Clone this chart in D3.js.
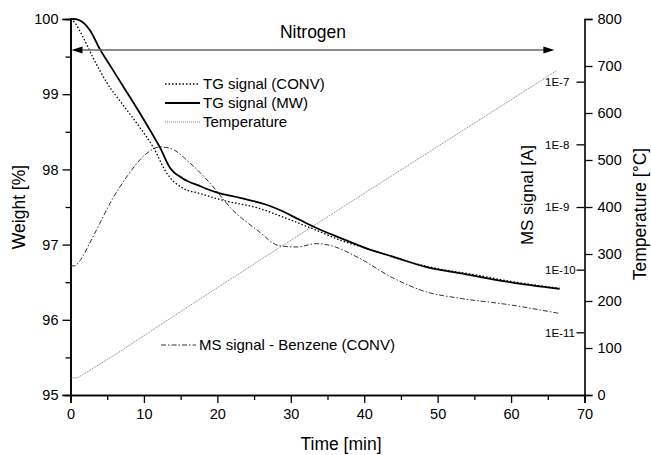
<!DOCTYPE html>
<html>
<head>
<meta charset="utf-8">
<script src="https://cdn.jsdelivr.net/npm/d3@7"></script>
<style>
  body { margin: 0; background: #fff; }
  text { font-family: "Liberation Sans", Arial, sans-serif; fill: #000; }
</style>
</head>
<body>
<div id="chart"></div>
<script>
// data
var tgConvTime = [0, 0.5, 1.7, 3.1, 4.9, 7.2, 9.5, 11.3, 13.1, 15.3, 17.6, 20.7, 25.4, 29.9, 33.5, 36.7, 40.3, 45, 50, 55, 60, 66.6];
var tgConvWeight = [100, 99.96, 99.76, 99.48, 99.16, 98.85, 98.55, 98.29, 97.95, 97.75, 97.68, 97.59, 97.49, 97.33, 97.19, 97.06, 96.95, 96.80, 96.68, 96.60, 96.51, 96.42];

var tgMwTime = [0, 0.5, 1.3, 2.65, 4, 5.4, 7.2, 9.5, 11.2, 12.2, 13.5, 15.3, 17.6, 19.7, 23.1, 26.7, 28.5, 31.2, 33.5, 36.7, 40.3, 43.9, 48.5, 53, 59.8, 66.6];
var tgMwWeight = [100, 100, 99.98, 99.85, 99.60, 99.38, 99.10, 98.74, 98.46, 98.29, 98.03, 97.88, 97.78, 97.70, 97.62, 97.53, 97.46, 97.33, 97.22, 97.09, 96.95, 96.84, 96.70, 96.62, 96.50, 96.41];

var tempTime = [0, 1, 6, 17.6, 25.8, 40.7, 66.2];
var tempValue = [36, 37, 85, 204, 287, 436, 690];

var msTime = [0, 0.5, 1.3, 2.65, 4, 5.4, 7.8, 10.4, 12.2, 13.5, 16.3, 19, 22.1, 25.4, 28.5, 30.8, 33.5, 35.3, 39, 43.9, 48.5, 53, 59.8, 66.6];
var msSignal = [1.15e-10, 1.15e-10, 1.4e-10, 2.7e-10, 5.5e-10, 1.15e-9, 3.2e-9, 7.2e-9, 9.1e-9, 8.7e-9, 5.0e-9, 2.4e-9, 8.9e-10, 4.3e-10, 2.4e-10, 2.3e-10, 2.6e-10, 2.45e-10, 1.6e-10, 7.4e-11, 4.4e-11, 3.5e-11, 2.75e-11, 2.0e-11];

var xTicks = [0, 10, 20, 30, 40, 50, 60, 70];
var weightTicks = [95, 96, 97, 98, 99, 100];
var tempTicks = [0, 100, 200, 300, 400, 500, 600, 700, 800];
var msTicks = [1e-11, 1e-10, 1e-9, 1e-8, 1e-7];
var msTickLabels = ["1E-11", "1E-10", "1E-9", "1E-8", "1E-7"];

var W = 651, H = 455;
var plotL = 70.5, plotR = 584.5, plotT = 19, plotB = 395;

var svg = d3.select("#chart").append("svg")
  .attr("width", W)
  .attr("height", H);

// scales
var x = d3.scaleLinear().domain([0, 70]).range([plotL, plotR]);
var yW = d3.scaleLinear().domain([95, 100]).range([plotB, plotT]);
var yT = d3.scaleLinear().domain([0, 800]).range([plotB, plotT]);
var yM = d3.scaleLog().domain([1e-12, 1e-6]).range([plotB, plotT]);

function styleAxis(g) {
  g.selectAll(".domain").attr("stroke", "#000").attr("stroke-width", 1.6);
  g.selectAll(".tick line").attr("stroke", "#000").attr("stroke-width", 1.3);
  g.selectAll("text").style("font-family", "Liberation Sans, Arial, sans-serif").attr("fill", "#000");
}

// minor ticks first so the major ones sit on top
svg.append("g")
  .attr("transform", "translate(0," + plotB + ")")
  .call(d3.axisBottom(x).tickValues(d3.range(5, 70, 10)).tickSize(5).tickFormat(""))
  .call(styleAxis);
svg.append("g")
  .attr("transform", "translate(" + plotL + ",0)")
  .call(d3.axisLeft(yW).tickValues(d3.range(95.5, 100, 1)).tickSize(5).tickFormat(""))
  .call(styleAxis);

// X axis
var gx = svg.append("g")
  .attr("transform", "translate(0," + plotB + ")")
  .call(d3.axisBottom(x).tickValues(xTicks).tickSize(8).tickPadding(6).tickFormat(d3.format("d")))
  .call(styleAxis);
gx.selectAll("text").style("font-size", "14.5px");

// left Y axis (weight)
var gy = svg.append("g")
  .attr("transform", "translate(" + plotL + ",0)")
  .call(d3.axisLeft(yW).tickValues(weightTicks).tickSize(8).tickPadding(4).tickFormat(d3.format("d")))
  .call(styleAxis);
gy.selectAll("text").style("font-size", "14.5px");

// right Y axis (temperature)
var gt = svg.append("g")
  .attr("transform", "translate(" + plotR + ",0)")
  .call(d3.axisRight(yT).tickValues(tempTicks).tickSize(8).tickPadding(5).tickFormat(d3.format("d")))
  .call(styleAxis);
gt.selectAll("text").style("font-size", "14.5px");

// MS signal ticks, pointing inward
var gm = svg.append("g")
  .attr("transform", "translate(" + plotR + ",0)")
  .call(d3.axisLeft(yM).tickValues(msTicks).tickSize(8).tickFormat(function(d, i) { return msTickLabels[i]; }))
  .call(styleAxis);
gm.select(".domain").remove();
gm.selectAll("text")
  .attr("text-anchor", "start")
  .attr("x", 545 - plotR)
  .style("font-size", "11.5px");

// lines
var lineW = d3.line().x(function(d) { return x(d[0]); }).y(function(d) { return yW(d[1]); }).curve(d3.curveMonotoneX);
var lineT = d3.line().x(function(d) { return x(d[0]); }).y(function(d) { return yT(d[1]); });
var lineM = d3.line().x(function(d) { return x(d[0]); }).y(function(d) { return yM(d[1]); }).curve(d3.curveMonotoneX);

svg.append("path")
  .datum(d3.zip(tempTime, tempValue))
  .attr("d", lineT)
  .attr("fill", "none")
  .attr("stroke", "#555")
  .attr("stroke-width", 0.8)
  .attr("stroke-dasharray", "1,1");

svg.append("path")
  .datum(d3.zip(msTime, msSignal))
  .attr("d", lineM)
  .attr("fill", "none")
  .attr("stroke", "#333")
  .attr("stroke-width", 1)
  .attr("stroke-dasharray", "5,2,1.5,2");

svg.append("path")
  .datum(d3.zip(tgConvTime, tgConvWeight))
  .attr("d", lineW)
  .attr("fill", "none")
  .attr("stroke", "#000")
  .attr("stroke-width", 1.3)
  .attr("stroke-dasharray", "1.5,2");

svg.append("path")
  .datum(d3.zip(tgMwTime, tgMwWeight))
  .attr("d", lineW)
  .attr("fill", "none")
  .attr("stroke", "#000")
  .attr("stroke-width", 1.8);

// nitrogen arrow
var arrowY = 50, ax0 = x(0) + 1, ax1 = x(65.9);
svg.append("line")
  .attr("x1", ax0 + 6).attr("x2", ax1 - 6)
  .attr("y1", arrowY).attr("y2", arrowY)
  .attr("stroke", "#666").attr("stroke-width", 1.6);
svg.append("path")
  .attr("d", "M" + ax0 + "," + arrowY + "l11,-3.5l0,7z")
  .attr("fill", "#000");
svg.append("path")
  .attr("d", "M" + ax1 + "," + arrowY + "l-11,-3.5l0,7z")
  .attr("fill", "#000");
svg.append("text")
  .attr("x", 313).attr("y", 38)
  .attr("text-anchor", "middle")
  .style("font-size", "17.5px")
  .text("Nitrogen");

// legend
var legend = [
  {label: "TG signal (CONV)", y: 84, dash: "1.5,2", color: "#000", w: 1.3, x: 165},
  {label: "TG signal (MW)", y: 103, dash: null, color: "#000", w: 1.8, x: 165},
  {label: "Temperature", y: 122, dash: "1,1", color: "#555", w: 0.8, x: 165},
  {label: "MS signal - Benzene (CONV)", y: 345, dash: "5,2,1.5,2", color: "#333", w: 1, x: 161}
];
legend.forEach(function(d) {
  svg.append("line")
    .attr("x1", d.x).attr("x2", d.x + 35)
    .attr("y1", d.y).attr("y2", d.y)
    .attr("stroke", d.color)
    .attr("stroke-width", d.w)
    .attr("stroke-dasharray", d.dash);
  svg.append("text")
    .attr("x", d.x + 38).attr("y", d.y + 5)
    .style("font-size", "15px")
    .text(d.label);
});

// axis titles
svg.append("text")
  .attr("text-anchor", "middle")
  .attr("x", 341).attr("y", 450)
  .style("font-size", "17.5px")
  .text("Time [min]");

svg.append("text")
  .attr("text-anchor", "middle")
  .attr("transform", "translate(25,207) rotate(-90)")
  .style("font-size", "17.5px")
  .text("Weight [%]");

svg.append("text")
  .attr("text-anchor", "middle")
  .attr("transform", "translate(533,195) rotate(-90)")
  .style("font-size", "17px")
  .text("MS signal [A]");

svg.append("text")
  .attr("text-anchor", "middle")
  .attr("transform", "translate(646,214) rotate(-90)")
  .style("font-size", "17.5px")
  .text("Temperature [°C]");
</script>
</body>
</html>
